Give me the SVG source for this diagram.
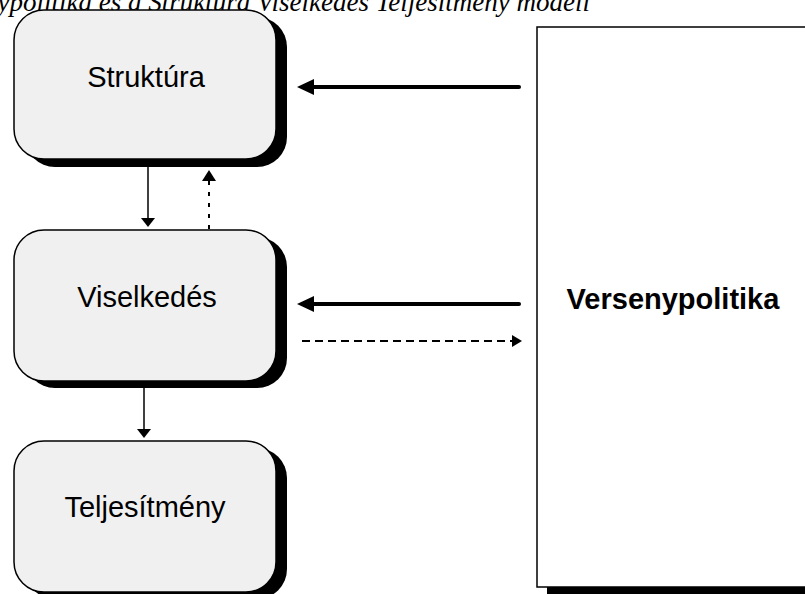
<svg xmlns="http://www.w3.org/2000/svg" width="805" height="594" viewBox="0 0 805 594">
<defs>
<style>
.box{fill:#f0f0f0;stroke:#000;stroke-width:1.5}
.sh{fill:#000}
.lbl{font-family:"Liberation Sans",Arial,sans-serif;font-size:29px;fill:#000;text-anchor:middle}
.thick{stroke:#000;stroke-width:4;stroke-linecap:round;fill:none}
.thin{stroke:#000;stroke-width:1.5;fill:none}
.dash{stroke:#000;stroke-width:2;stroke-dasharray:8 5;fill:none}
.dot{stroke:#000;stroke-width:2;stroke-dasharray:4 7;fill:none}
</style>
</defs>
<rect width="805" height="594" fill="#fff"/>
<text x="590" y="11" text-anchor="end" font-family="'Liberation Serif','Times New Roman',serif" font-style="italic" font-size="27">Versenypolitika és a Struktúra Viselkedés Teljesítmény modell</text>

<g id="node-struktura">
<rect class="sh" x="25" y="17" width="262" height="150" rx="30"/>
<rect class="box" x="14" y="10" width="262" height="149" rx="30"/>
<text class="lbl" x="146" y="87">Struktúra</text>
</g>
<g id="node-viselkedes">
<rect class="sh" x="25" y="237" width="262" height="151" rx="30"/>
<rect class="box" x="14" y="230" width="262" height="151" rx="30"/>
<text class="lbl" x="147" y="307">Viselkedés</text>
</g>
<g id="node-teljesitmeny">
<rect class="sh" x="25" y="448" width="262" height="151" rx="30"/>
<rect class="box" x="14" y="441" width="262" height="151" rx="30"/>
<text class="lbl" x="145" y="517">Teljesítmény</text>
</g>
<g id="node-versenypolitika">
<rect class="sh" x="547" y="35" width="280" height="559"/>
<rect x="537" y="27" width="290" height="560" fill="#fff" stroke="#000" stroke-width="1.5"/>
<text x="673" y="309" font-family="'Liberation Sans',Arial,sans-serif" font-weight="bold" font-size="29" text-anchor="middle">Versenypolitika</text>
</g>

<g id="connectors">
<line class="thick" x1="519" y1="87" x2="310" y2="87"/>
<polygon points="297,87 314,79 314,95"/>
<line class="thick" x1="519" y1="304" x2="310" y2="304"/>
<polygon points="297,304 314,296 314,312"/>
<line class="dash" x1="302" y1="341" x2="512" y2="341"/>
<polygon points="522,341 512,335 512,347"/>
<line class="thin" x1="148" y1="167" x2="148" y2="220"/>
<polygon points="148,227 141,218 155,218"/>
<line class="dot" x1="209" y1="229" x2="209" y2="180"/>
<polygon points="209,170 202,181 216,181"/>
<line class="thin" x1="144" y1="388" x2="144" y2="431"/>
<polygon points="144,438 137,429 151,429"/>
</g>
</svg>
